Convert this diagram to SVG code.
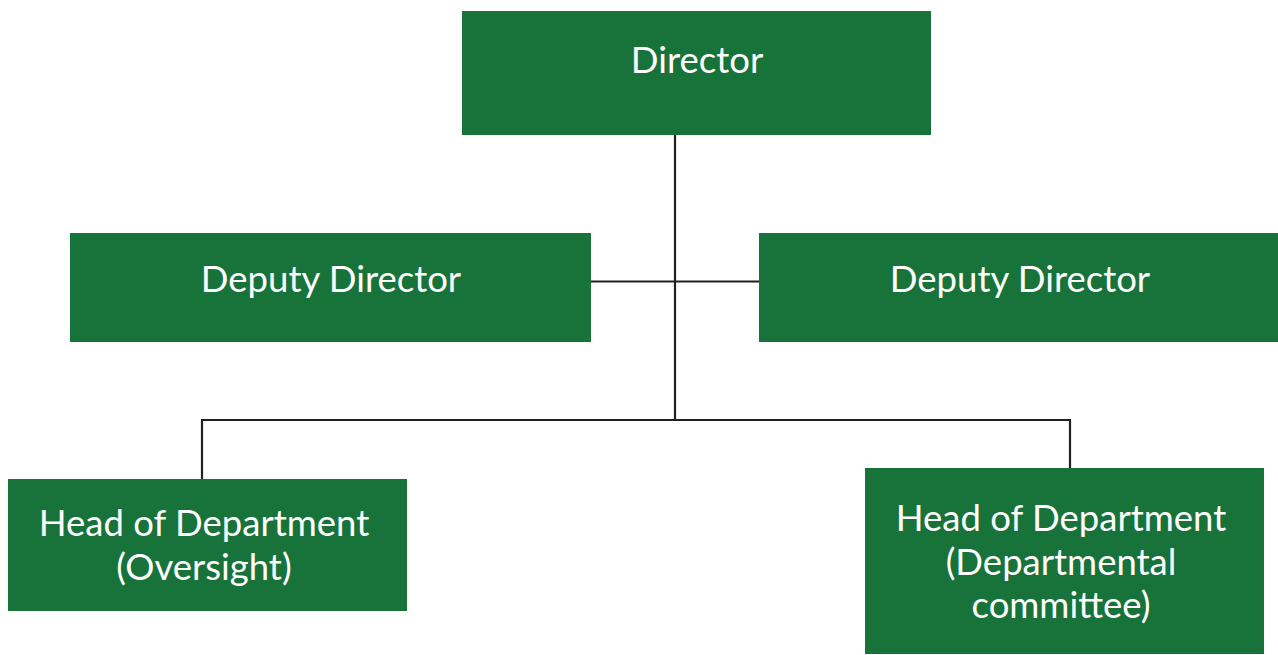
<svg xmlns="http://www.w3.org/2000/svg" width="1278" height="655" viewBox="0 0 1278 655">
<style>
.box{fill:#17733A}
.t{fill:#ffffff;font-family:Lato,"Open Sans",sans-serif;font-size:36.5px;text-anchor:middle}
.c{stroke:#231f20;stroke-width:2.2;fill:none}
</style>
<rect width="1278" height="655" fill="#ffffff"/>
<g id="connectors">
<line class="c" x1="675" y1="132" x2="675" y2="421"/>
<line class="c" x1="591" y1="281.5" x2="759" y2="281.5"/>
<polyline class="c" points="202,479 202,420 1070,420 1070,468"/>
</g>
<g id="director">
<rect class="box" x="462" y="11" width="469" height="124"/>
<text class="t" x="697" y="73">Director</text>
</g>
<g id="deputy-left">
<rect class="box" x="70" y="233" width="521" height="109"/>
<text class="t" x="331" y="292">Deputy Director</text>
</g>
<g id="deputy-right">
<rect class="box" x="759" y="233" width="519" height="109"/>
<text class="t" x="1020" y="292">Deputy Director</text>
</g>
<g id="hod-oversight">
<rect class="box" x="8" y="479" width="399" height="132"/>
<text class="t" x="204" y="536">Head of Department</text>
<text class="t" x="204" y="580">(Oversight)</text>
</g>
<g id="hod-committee">
<rect class="box" x="865" y="468" width="399" height="186"/>
<text class="t" x="1061" y="531">Head of Department</text>
<text class="t" x="1061" y="575">(Departmental</text>
<text class="t" x="1061" y="618">committee)</text>
</g>
</svg>
